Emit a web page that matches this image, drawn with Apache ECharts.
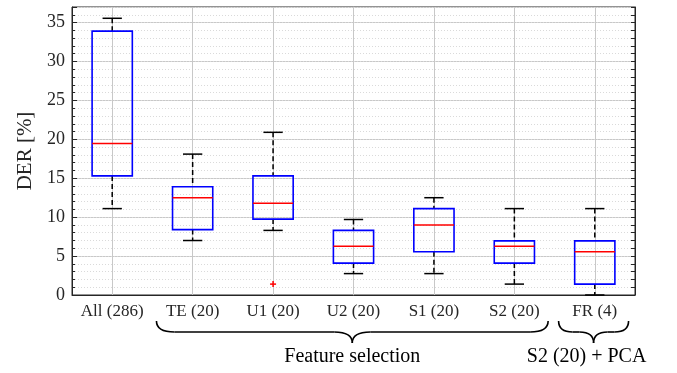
<!DOCTYPE html>
<html>
<head>
<meta charset="utf-8">
<script src="https://cdn.jsdelivr.net/npm/echarts@6/dist/echarts.min.js"></script>
<style>
  html, body { margin:0; padding:0; background:#fff; }
  #chart { width:677px; height:373px; }
</style>
</head>
<body>
<div id="chart"></div>
<script>
// DER per feature set (box statistics)
const categories   = ['All (286)', 'TE (20)', 'U1 (20)', 'U2 (20)', 'S1 (20)', 'S2 (20)', 'FR (4)'];
const lowerWhisker = [11.1, 7.0, 8.3, 2.75, 2.75, 1.4, 0];
const quartile1    = [15.3, 8.4, 9.75, 4.1, 5.55, 4.1, 1.4];
const medians      = [19.45, 12.5, 11.8, 6.25, 9.0, 6.25, 5.55];
const quartile3    = [33.9, 13.9, 15.3, 8.3, 11.1, 6.95, 6.95];
const upperWhisker = [35.55, 18.1, 20.9, 9.7, 12.5, 11.1, 11.1];
const outliers     = [[2, 1.4]];
const yTicks       = [0, 5, 10, 15, 20, 25, 30, 35];

const groups = [
    { from:1, to:5, label:'Feature selection' },
    { from:6, to:6, label:'S2 (20) + PCA' }
];

const FONT = 'Liberation Serif';
const AXIS = '#262626';

let boxData = categories.map((c, i)=>[i, lowerWhisker[i], quartile1[i], medians[i], quartile3[i], upperWhisker[i]]);

let myChart = echarts.init(document.getElementById('chart'));

function renderBox(params, api){
    let x = api.value(0);
    let pLW = api.coord([x, api.value(1)]);
    let pQ1 = api.coord([x, api.value(2)]);
    let pMed = api.coord([x, api.value(3)]);
    let pQ3 = api.coord([x, api.value(4)]);
    let pUW = api.coord([x, api.value(5)]);
    let band = api.size([1, 0])[0];
    let bw = band * 0.5;
    let cw = bw * 0.48;
    let cx = pMed[0];
    let dash = { stroke:'#000', lineWidth:1.5, lineDash:[5, 3] };
    let solid = { stroke:'#000', lineWidth:1.5 };
    return {
        type:'group',
        children:[
            { type:'line', shape:{ x1:cx, y1:pUW[1], x2:cx, y2:pQ3[1] }, style:dash },
            { type:'line', shape:{ x1:cx, y1:pQ1[1], x2:cx, y2:pLW[1] }, style:dash },
            { type:'line', shape:{ x1:cx-cw/2, y1:pUW[1], x2:cx+cw/2, y2:pUW[1] }, style:solid },
            { type:'line', shape:{ x1:cx-cw/2, y1:pLW[1], x2:cx+cw/2, y2:pLW[1] }, style:solid },
            { type:'rect', shape:{ x:cx-bw/2, y:pQ3[1], width:bw, height:pQ1[1]-pQ3[1] },
              style:{ fill:'none', stroke:'#0000ff', lineWidth:1.6 } },
            { type:'line', shape:{ x1:cx-bw/2, y1:pMed[1], x2:cx+bw/2, y2:pMed[1] },
              style:{ stroke:'#ff0000', lineWidth:1.5 } }
        ]
    };
}

function renderOutlier(params, api){
    let p = api.coord([api.value(0), api.value(1)]);
    let s = 3;
    let st = { stroke:'#ff0000', lineWidth:1.5 };
    return {
        type:'group',
        children:[
            { type:'line', shape:{ x1:p[0]-s, y1:p[1], x2:p[0]+s, y2:p[1] }, style:st },
            { type:'line', shape:{ x1:p[0], y1:p[1]-s, x2:p[0], y2:p[1]+s }, style:st }
        ]
    };
}

let option = {
    animation:false,
    textStyle:{ fontFamily:FONT },
    grid:{ left:72, right:42, top:7, bottom:78, show:true, borderColor:AXIS, borderWidth:1, backgroundColor:'transparent' },
    xAxis:{
        type:'category',
        data:categories,
        boundaryGap:true,
        axisLine:{ lineStyle:{ color:AXIS, width:1 } },
        axisTick:{ inside:true, length:5, alignWithLabel:true, lineStyle:{ color:AXIS } },
        axisLabel:{ interval:0, fontFamily:FONT, fontSize:17, color:'#262626', margin:8 },
        splitLine:{ show:true, alignWithLabel:true, lineStyle:{ color:'#c8c8c8', width:1 } }
    },
    yAxis:[
        {
            type:'value', min:0, max:37, interval:5, position:'left',
            name:'DER [%]', nameLocation:'middle', nameGap:33, nameRotate:90,
            nameTextStyle:{ fontFamily:FONT, fontSize:21, color:'#262626' },
            axisLine:{ show:true, lineStyle:{ color:AXIS } },
            axisTick:{ show:true, inside:true, length:5, lineStyle:{ color:AXIS } },
            axisLabel:{ fontFamily:FONT, fontSize:18, color:'#262626', margin:7,
                formatter:(v)=> yTicks.indexOf(v) >= 0 ? String(v) : '' },
            splitLine:{ show:true, lineStyle:{ color:'#c8c8c8', width:1 } }
        },
        {
            type:'value', min:0, max:37, interval:1, position:'left',
            axisLine:{ show:false },
            axisTick:{ show:true, inside:true, length:3, lineStyle:{ color:AXIS } },
            axisLabel:{ show:false },
            splitLine:{ show:true, lineStyle:{ color:'#dadada', width:1, type:[1, 2] } }
        },
        {
            type:'value', min:0, max:37, interval:1, position:'right',
            axisLine:{ show:true, lineStyle:{ color:AXIS } },
            axisTick:{ show:true, inside:true, length:4, lineStyle:{ color:AXIS } },
            axisLabel:{ show:false },
            splitLine:{ show:false }
        }
    ],
    series:[
        { type:'custom', name:'DER', xAxisIndex:0, yAxisIndex:0, data:boxData,
          encode:{ x:0, y:[1, 2, 3, 4, 5] }, renderItem:renderBox, z:5 },
        { type:'custom', name:'Outliers', xAxisIndex:0, yAxisIndex:0, data:outliers,
          encode:{ x:0, y:1 }, renderItem:renderOutlier, z:6 }
    ]
};
myChart.setOption(option);

// curly braces under the category labels
function braceParts(x0, x1, yTop, yMid, yTip){
    let xm = (x0 + x1) / 2;
    let r = Math.min(18, (x1 - x0) / 5);
    let st = { fill:'none', stroke:'#000', lineWidth:1.6 };
    let curve = (ax, ay, cx, cy, bx, by)=>({
        type:'bezierCurve', shape:{ x1:ax, y1:ay, cpx1:cx, cpy1:cy, x2:bx, y2:by }, style:st
    });
    return [
        curve(x0, yTop, x0, yMid, x0 + r, yMid),
        { type:'line', shape:{ x1:x0 + r, y1:yMid, x2:xm - r, y2:yMid }, style:st },
        curve(xm - r, yMid, xm, yMid, xm, yTip),
        curve(xm, yTip, xm, yMid, xm + r, yMid),
        { type:'line', shape:{ x1:xm + r, y1:yMid, x2:x1 - r, y2:yMid }, style:st },
        curve(x1 - r, yMid, x1, yMid, x1, yTop)
    ];
}

let c0 = myChart.convertToPixel({ xAxisIndex:0 }, 0);
let c1 = myChart.convertToPixel({ xAxisIndex:0 }, 1);
let band = c1 - c0;
let graphics = [];
groups.forEach((g, gi)=>{
    let x0 = myChart.convertToPixel({ xAxisIndex:0 }, g.from) - band * 0.45;
    let x1 = myChart.convertToPixel({ xAxisIndex:0 }, g.to) + band * 0.42;
    let xm = (x0 + x1) / 2;
    graphics.push({ type:'group', children:braceParts(x0, x1, 321, 332, 343) });
    graphics.push({
        type:'text', x:gi === 1 ? xm - 7 : xm, y:357,
        style:{ text:g.label, fontFamily:FONT, fontSize:20, fill:'#000', align:'center', verticalAlign:'middle' }
    });
});
myChart.setOption({ graphic:graphics });
</script>
</body>
</html>
